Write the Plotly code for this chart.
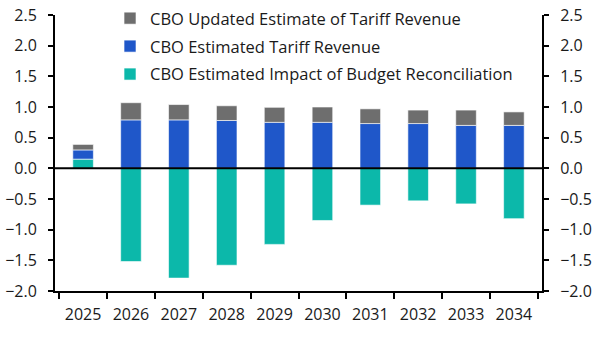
import plotly.graph_objects as go

years = ["2025", "2026", "2027", "2028", "2029", "2030", "2031", "2032", "2033", "2034"]
impact = [0.15, -1.52, -1.79, -1.58, -1.24, -0.85, -0.60, -0.53, -0.58, -0.82]
estimated = [0.15, 0.79, 0.79, 0.78, 0.75, 0.75, 0.73, 0.73, 0.70, 0.70]
updated_extra = [0.09, 0.28, 0.25, 0.24, 0.245, 0.25, 0.24, 0.22, 0.25, 0.22]
yticks = [2.5, 2.0, 1.5, 1.0, 0.5, 0.0, -0.5, -1.0, -1.5, -2.0]

FONT = "Open Sans"
C_TEAL = "#0cb8aa"
C_BLUE = "#1f57c9"
C_GRAY = "#6e6e6e"
EDGE = dict(color="rgba(255,255,255,0.6)", width=1)

fig = go.Figure()
fig.add_bar(x=years, y=impact, name="CBO Estimated Impact of Budget Reconciliation",
            marker=dict(color=C_TEAL, line=EDGE), legendgroup="c", legendrank=3)
fig.add_bar(x=years, y=estimated, name="CBO Estimated Tariff Revenue",
            marker=dict(color=C_BLUE, line=EDGE), legendgroup="b", legendrank=2)
fig.add_bar(x=years, y=updated_extra, name="CBO Updated Estimate of Tariff Revenue",
            marker=dict(color=C_GRAY, line=EDGE), legendgroup="a", legendrank=1)
# invisible trace for right axis
fig.add_scatter(x=years, y=[None] * len(years), yaxis="y2", showlegend=False, hoverinfo="skip")

yaxis_common = dict(
    range=[-2.0, 2.5], tickvals=yticks, tickformat=".1f",
    showgrid=False, zeroline=False, showline=True, linecolor="black", linewidth=2,
    ticks="outside", ticklen=5, tickwidth=2, tickcolor="black",
    tickfont=dict(family=FONT, size=16, color="#1a1a1a"), ticklabelstandoff=8,
)

fig.update_layout(
    width=603, height=340,
    margin=dict(l=55, r=61, t=15, b=49, autoexpand=False),
    barmode="relative", bargap=0.57,
    plot_bgcolor="white", paper_bgcolor="white",
    font=dict(family=FONT, size=16, color="#1a1a1a"),
    xaxis=dict(type="category", showgrid=False, showline=True, linecolor="black", linewidth=2,
               ticks="outside", tickson="boundaries", ticklen=6, tickwidth=2, tickcolor="black",
               tickfont=dict(family=FONT, size=16, color="#1a1a1a"), ticklabelstandoff=8),
    yaxis=dict(**yaxis_common, side="left"),
    yaxis2=dict(**yaxis_common, side="right", overlaying="y", matches="y"),
    legend=dict(x=0.113, y=1.051, xanchor="left", yanchor="top", traceorder="grouped",
                tracegroupgap=3.5, itemwidth=30, bgcolor="rgba(0,0,0,0)",
                font=dict(family=FONT, size=16.5, color="#1a1a1a")),
    showlegend=True,
)
fig.add_hline(y=0, line=dict(color="black", width=2), layer="above")

fig.write_html("out.html")
